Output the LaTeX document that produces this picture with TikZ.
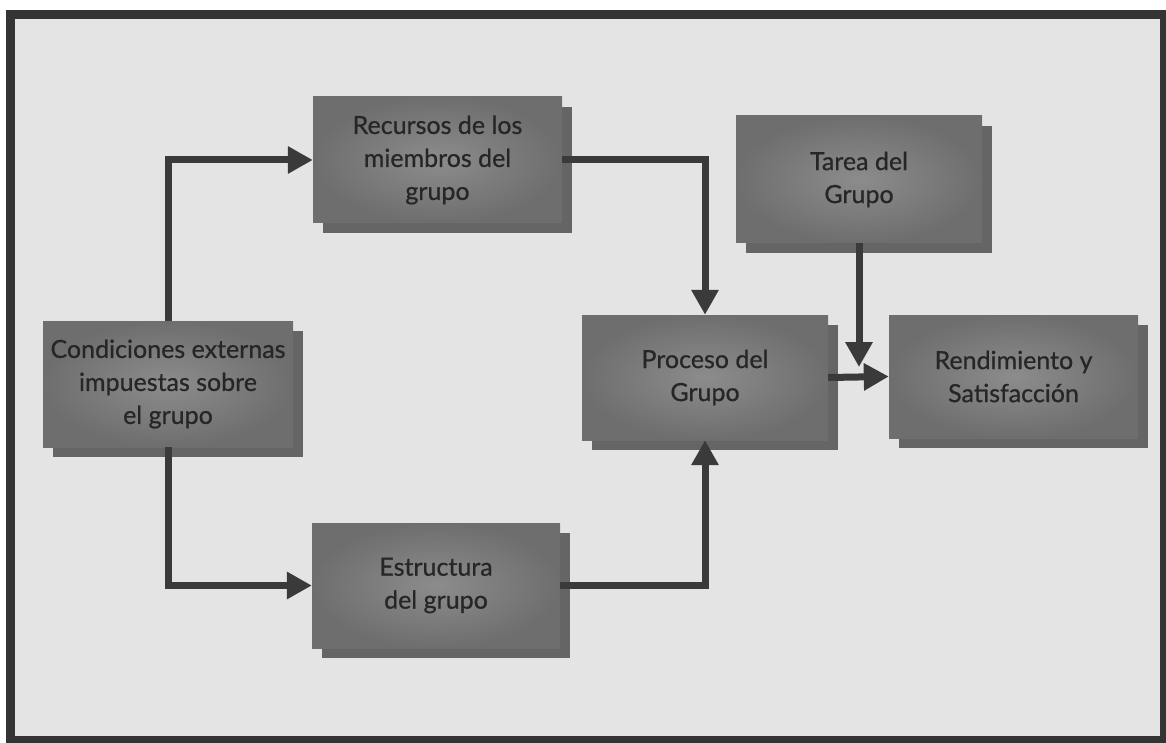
\documentclass[tikz,border=0pt]{standalone}
\usepackage{fontspec}
\setmainfont{Lato}
\newfontfamily\boxfont{Lato}[FakeBold=0.7]
\usetikzlibrary{arrows.meta,shadows}
\definecolor{paper}{HTML}{E4E4E4}
\definecolor{frame}{HTML}{343434}
\definecolor{boxin}{HTML}{8C8C8C}
\definecolor{boxout}{HTML}{6E6E6E}
\definecolor{boxshade}{HTML}{656565}
\definecolor{ink}{HTML}{262626}
\definecolor{wire}{HTML}{3A3A3A}
\begin{document}
\begin{tikzpicture}[x=1pt,y=-1pt,
  block/.style={rectangle, inner sep=0pt, align=center, text=ink,
    inner color=boxin, outer color=boxout,
    font=\boxfont\fontsize{25}{33}\selectfont,
    general shadow={fill=boxshade, shadow xshift=10pt, shadow yshift=-10pt}},
  wire/.style={draw=wire, line width=7pt,
    -{Triangle[length=25pt,width=26pt]}}]
  \useasboundingbox (0,0) rectangle (1166,743);
  % paper and frame
  \fill[white] (0,0) rectangle (1166,743);
  \fill[paper] (10,14.5) rectangle (1164,740);
  \draw[frame, line width=9pt] (10,14.5) rectangle (1164,740);

  % boxes
  \node[block, minimum width=249pt, minimum height=126pt] (rec) at (437.5,160)
    {Recursos de los\\miembros del\\grupo};
  \node[block, minimum width=250pt, minimum height=126pt] (cond) at (168,384)
    {Condiciones externas\\impuestas sobre\\el grupo};
  \node[block, minimum width=248pt, minimum height=125pt] (est) at (436,585.5)
    {Estructura\\del grupo};
  \node[block, minimum width=246pt, minimum height=125pt] (proc) at (705,377.5)
    {Proceso del\\Grupo};
  \node[block, minimum width=249pt, minimum height=123pt] (ren) at (1013.5,376.5)
    {Rendimiento y\\Satisfacción};
  \node[block, minimum width=246pt, minimum height=127pt] (tar) at (859,179.5)
    {Tarea del\\Grupo};
  \coordinate (tarend) at (859,367);

  % connectors
  \draw[wire] (cond.north) |- (rec.west);
  \draw[wire] (cond.south) |- (est.west);
  \draw[wire] (rec.east) -| (proc.north);
  \draw[wire] (est.east) -| (proc.south);
  \draw[wire] (proc.east) -- (ren.west);
  \draw[wire] (tar.south) -- (tarend);
\end{tikzpicture}
\end{document}
